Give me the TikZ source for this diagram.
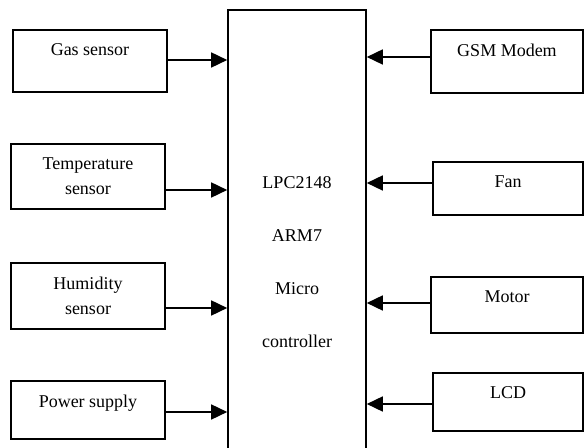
\documentclass[tikz,border=0pt]{standalone}
\usepackage{fontspec}
\setmainfont{Liberation Serif}
\usetikzlibrary{arrows.meta}
\begin{document}
\begin{tikzpicture}[
      x=0.5pt, y=-0.5pt,
      thick,
      font=\fontsize{9}{12.5}\selectfont,
      module/.style={
        rectangle,
        draw=black,
        thick,
        inner sep=0pt
      },
      modtext/.style={
        anchor=north,
        align=center,
        inner sep=0pt,
        yshift=-7pt
      },
      pijl/.style={
        -{Triangle[length=8pt,width=7.5pt]}
      }
    ]
      \useasboundingbox (0,0) rectangle (584,448);
      \clip (0,0) rectangle (584,448);

      \node (mcu) at (297,262) [module,minimum width=69pt,minimum height=252pt,align=center,font=\fontsize{9}{26.5}\selectfont]{LPC2148\\ARM7\\Micro\\controller};

      \node (gas) at (90,61) [module,minimum width=77pt,minimum height=31pt,label={[modtext]north:Gas sensor}]{};
      \node (temp) at (88,176.5) [module,minimum width=77pt,minimum height=32.5pt,label={[modtext]north:Temperature\\sensor}]{};
      \node (humid) at (88,296) [module,minimum width=77pt,minimum height=33pt,label={[modtext]north:Humidity\\sensor}]{};
      \node (power) at (88,410) [module,minimum width=77pt,minimum height=29pt,label={[modtext]north:Power supply}]{};

      \node (gsm) at (507,61.5) [module,minimum width=76pt,minimum height=31.5pt,label={[modtext]north:GSM Modem}]{};
      \node (fan) at (508,188.5) [module,minimum width=75pt,minimum height=26.5pt,label={[modtext]north:Fan}]{};
      \node (motor) at (507,305) [module,minimum width=76pt,minimum height=28pt,label={[modtext]north:Motor}]{};
      \node (lcd) at (508,402) [module,minimum width=75pt,minimum height=29pt,label={[modtext]north:LCD}]{};

      \draw[pijl] (gas.east |- 0,60) -- (mcu.west |- 0,60);
      \draw[pijl] (temp.east |- 0,190) -- (mcu.west |- 0,190);
      \draw[pijl] (humid.east |- 0,308) -- (mcu.west |- 0,308);
      \draw[pijl] (power.east |- 0,412) -- (mcu.west |- 0,412);

      \draw[pijl] (gsm.west |- 0,57) -- (mcu.east |- 0,57);
      \draw[pijl] (fan.west |- 0,183) -- (mcu.east |- 0,183);
      \draw[pijl] (motor.west |- 0,303) -- (mcu.east |- 0,303);
      \draw[pijl] (lcd.west |- 0,404) -- (mcu.east |- 0,404);

    \end{tikzpicture}
\end{document}
